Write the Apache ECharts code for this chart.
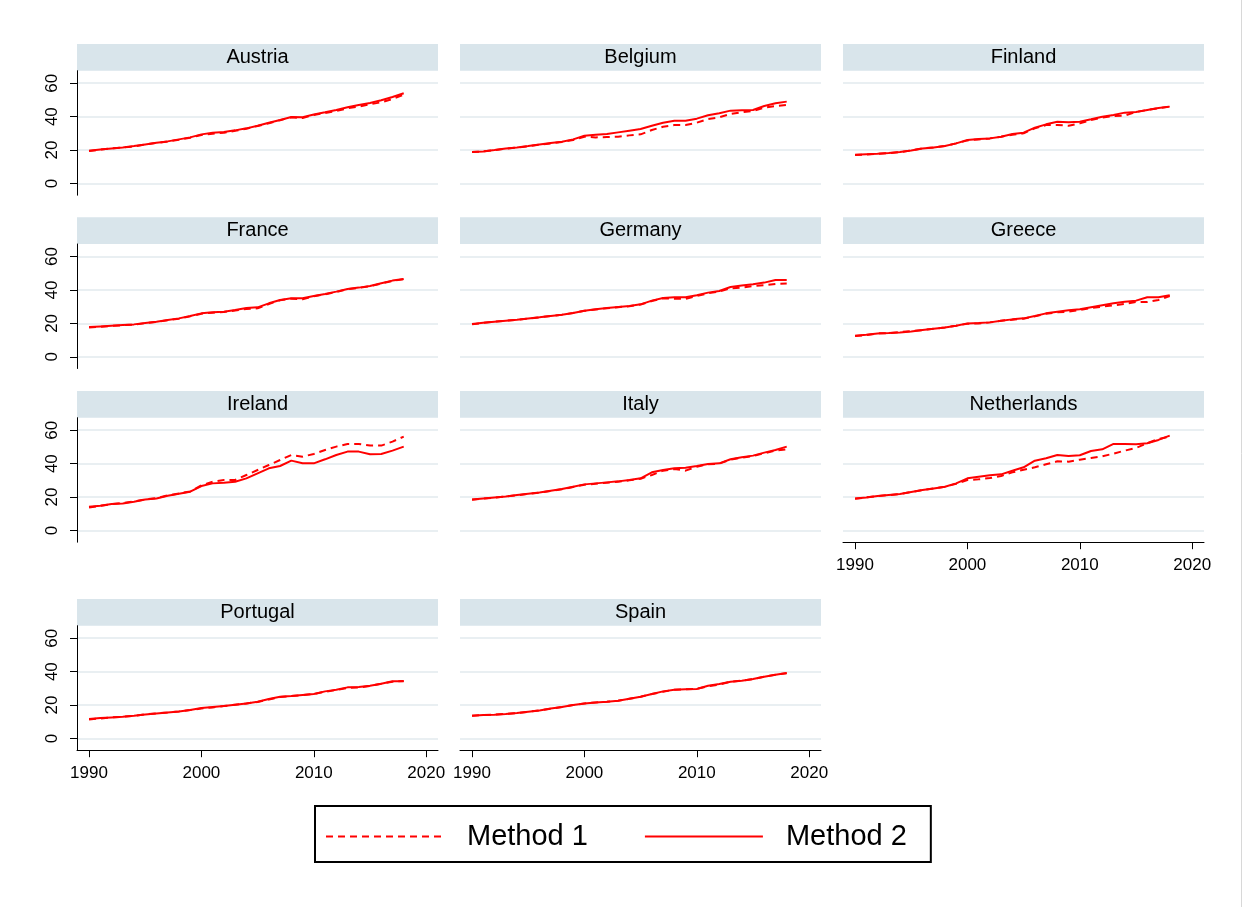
<!DOCTYPE html>
<html>
<head>
<meta charset="utf-8">
<script src="https://cdn.jsdelivr.net/npm/echarts@6/dist/echarts.min.js"></script>
<style>
html,body{margin:0;padding:0;background:#fff;}
#chart{width:1248px;height:907px;}
</style>
</head>
<body>
<div id="chart"></div>
<script>
// ---------- DATA ----------
var years = [1990,1991,1992,1993,1994,1995,1996,1997,1998,1999,2000,2001,2002,2003,2004,2005,2006,2007,2008,2009,2010,2011,2012,2013,2014,2015,2016,2017,2018];
var xTicks = [1990, 2000, 2010, 2020];
var yTicks = [0, 20, 40, 60];
var countries = ["Austria","Belgium","Finland","France","Germany","Greece","Ireland","Italy","Netherlands","Portugal","Spain"];
var seriesNames = ["Method 1", "Method 2"];

var austria_m1 = [19.4,20.3,21.0,21.5,22.2,23.3,24.3,25.1,26.2,27.4,29.0,29.8,30.4,31.5,32.8,34.4,36.1,37.9,39.6,39.2,41.0,42.2,43.4,45.0,46.0,47.4,48.6,50.6,53.2];
var austria_m2 = [19.6,20.4,21.0,21.6,22.4,23.4,24.4,25.2,26.4,27.6,29.4,30.4,30.8,31.8,33.0,34.6,36.3,38.0,39.8,39.6,41.3,42.6,44.0,45.6,47.0,48.2,49.8,51.8,54.0];
var belgium_m1 = [18.8,19.2,20.0,20.8,21.5,22.3,23.2,24.0,24.8,26.0,28.0,27.6,27.8,28.0,28.8,29.4,32.0,34.0,35.0,35.0,36.4,38.6,39.6,41.6,42.6,43.4,45.4,46.4,47.0];
var belgium_m2 = [18.8,19.2,20.0,21.0,21.6,22.4,23.4,24.2,25.0,26.4,28.6,29.2,29.6,30.6,31.6,32.6,34.6,36.4,37.6,37.6,38.8,40.8,42.0,43.6,43.8,44.0,46.4,48.0,49.0];
var finland_m1 = [17.0,17.4,17.8,18.2,18.8,19.8,21.0,21.6,22.4,24.0,25.8,26.4,27.0,28.0,29.2,30.0,33.0,35.0,35.0,34.6,36.0,38.0,39.4,40.4,40.6,42.8,44.0,45.0,46.0];
var finland_m2 = [17.2,17.5,17.8,18.2,18.8,19.8,21.0,21.6,22.4,24.0,26.0,26.6,27.0,28.0,29.6,30.4,33.4,35.4,37.0,36.6,37.0,38.4,40.0,41.0,42.4,42.8,44.0,45.2,46.0];
var france_m1 = [17.6,18.0,18.5,18.9,19.3,20.1,20.9,21.9,22.8,24.2,25.8,26.4,26.8,27.7,28.6,29.0,31.6,33.8,34.8,34.4,36.2,37.4,38.8,40.4,41.2,42.2,43.8,45.4,46.4];
var france_m2 = [17.8,18.2,18.6,19.0,19.4,20.2,21.0,22.0,23.0,24.4,26.0,26.6,27.0,28.0,29.2,29.6,32.0,34.0,35.0,35.0,36.4,37.6,39.0,40.6,41.4,42.4,44.0,45.6,46.6];
var germany_m1 = [19.4,20.3,21.0,21.6,22.2,22.9,23.6,24.4,25.2,26.2,27.5,28.3,29.1,29.7,30.3,31.3,33.4,35.0,34.8,34.6,36.4,38.0,39.0,41.0,41.4,42.4,42.8,43.6,43.8];
var germany_m2 = [19.6,20.4,21.0,21.6,22.2,22.9,23.6,24.4,25.2,26.2,27.6,28.4,29.2,29.8,30.4,31.4,33.6,35.2,35.6,35.6,36.8,38.4,39.4,41.8,42.6,43.4,44.4,46.0,46.0];
var greece_m1 = [12.4,13.0,14.0,14.2,14.8,15.3,16.0,16.8,17.6,18.6,19.8,20.0,20.6,21.6,22.2,22.8,24.2,25.8,26.6,27.0,28.0,29.2,30.0,30.8,31.6,32.8,32.8,34.0,36.4];
var greece_m2 = [12.6,13.2,14.0,14.2,14.6,15.2,16.0,16.8,17.6,18.6,20.0,20.2,20.6,21.6,22.4,23.0,24.4,26.0,27.0,27.8,28.4,29.6,30.8,32.0,33.0,33.6,35.6,35.6,36.8];
var ireland_m1 = [13.8,14.8,15.8,16.4,17.4,18.6,19.4,21.0,22.2,23.4,27.0,29.2,30.2,30.2,33.2,36.2,39.2,42.2,45.2,44.2,45.8,48.2,50.2,51.8,51.8,50.8,50.8,53.2,56.2];
var ireland_m2 = [14.2,14.8,15.8,16.2,17.2,18.6,19.2,20.8,22.0,23.2,26.6,28.2,28.6,29.2,31.2,34.2,37.2,38.6,41.8,40.2,40.2,42.6,45.2,47.2,47.2,45.6,45.8,47.8,50.2];
var italy_m1 = [18.4,19.1,19.7,20.3,21.1,21.9,22.7,23.7,24.7,26.0,27.4,28.0,28.6,29.2,30.0,31.0,33.2,35.8,36.8,35.8,38.2,39.6,40.0,42.4,43.6,44.6,46.2,47.8,48.6];
var italy_m2 = [18.6,19.2,19.8,20.4,21.2,22.0,22.8,23.8,24.8,26.2,27.6,28.2,28.8,29.4,30.2,31.2,34.8,36.2,37.2,37.6,38.6,39.8,40.2,42.6,43.8,44.8,46.6,48.2,50.2];
var netherlands_m1 = [19.0,19.8,20.6,21.2,21.8,23.0,24.2,25.2,26.2,28.0,30.2,30.6,31.4,32.6,34.8,36.4,37.8,39.6,41.4,41.2,42.4,43.4,44.4,46.0,47.8,49.4,52.2,54.8,56.2];
var netherlands_m2 = [19.2,19.8,20.6,21.2,21.8,23.0,24.2,25.2,26.2,28.2,31.2,32.2,33.0,33.6,35.8,37.8,41.8,43.2,45.2,44.6,45.0,47.6,48.6,51.8,51.8,51.6,52.2,54.2,56.8];
var portugal_m1 = [11.4,12.0,12.6,13.0,13.6,14.4,15.0,15.6,16.2,17.0,18.0,18.6,19.4,20.2,21.0,21.8,23.4,24.8,25.4,26.0,26.6,28.0,29.0,30.2,30.6,31.4,32.8,34.0,34.4];
var portugal_m2 = [11.6,12.2,12.6,13.0,13.6,14.4,15.0,15.6,16.2,17.0,18.2,18.8,19.4,20.2,21.0,22.0,23.6,25.0,25.4,26.0,26.6,28.2,29.2,30.6,30.8,31.6,32.8,34.2,34.2];
var spain_m1 = [13.6,14.0,14.3,14.8,15.2,16.0,16.8,17.8,18.8,20.0,21.0,21.6,22.0,22.6,23.8,25.0,26.6,28.0,29.2,29.4,29.8,31.2,32.2,34.0,34.6,35.6,37.0,38.2,39.0];
var spain_m2 = [13.6,14.0,14.2,14.6,15.2,16.0,16.8,18.0,18.8,20.0,21.0,21.6,22.0,22.6,23.8,25.0,26.6,28.2,29.2,29.4,29.6,31.6,32.6,34.0,34.6,35.6,37.0,38.2,39.2];

var method1 = [austria_m1, belgium_m1, finland_m1, france_m1, germany_m1, greece_m1, ireland_m1, italy_m1, netherlands_m1, portugal_m1, spain_m1];
var method2 = [austria_m2, belgium_m2, finland_m2, france_m2, germany_m2, greece_m2, ireland_m2, italy_m2, netherlands_m2, portugal_m2, spain_m2];

// ---------- LAYOUT ----------
var FONT = "'Liberation Sans', Arial, sans-serif";
var colLeft = [77, 460, 843];
var panelW = 361;
var plotTop = [70.7, 244, 417.7, 625.7];
var plotH = 124.5;
var headerH = 26.7;
var xAxisShown = {8: true, 9: true, 10: true};

var grids = [], xAxes = [], yAxes = [], series = [], graphics = [];

countries.forEach(function (name, i) {
  var r = Math.floor(i / 3), c = i % 3;
  var left = colLeft[c], top = plotTop[r];
  grids.push({ left: left, top: top, width: panelW, height: plotH, containLabel: false });
  var showX = !!xAxisShown[i];
  xAxes.push({
    type: 'value', gridIndex: i, min: 1988.93, max: 2021.05,
    axisLine: { show: showX, onZero: false, lineStyle: { color: '#000', width: 1 } },
    axisTick: { show: showX, length: 7, customValues: xTicks, lineStyle: { color: '#000', width: 1 } },
    axisLabel: { show: showX, customValues: xTicks, color: '#000', fontSize: 17, fontFamily: FONT, margin: 15,
                 formatter: function (v) { return String(v); } },
    splitLine: { show: false }
  });
  var showY = (c === 0);
  yAxes.push({
    type: 'value', gridIndex: i, min: -7, max: 67.5,
    axisLine: { show: showY, lineStyle: { color: '#000', width: 1 } },
    axisTick: { show: showY, length: 7, customValues: yTicks, lineStyle: { color: '#000', width: 1 } },
    axisLabel: { show: showY, customValues: yTicks, rotate: 90, color: '#000', fontSize: 17, fontFamily: FONT, margin: 16 },
    splitLine: { show: true, customValues: yTicks, lineStyle: { color: '#e9eff2', width: 2 } }
  });
  series.push({
    name: seriesNames[0], type: 'line', xAxisIndex: i, yAxisIndex: i,
    data: years.map(function (y, k) { return [y, method1[i][k]]; }),
    symbol: 'none', silent: true, animation: false,
    lineStyle: { color: '#ff0000', width: 2, type: [7, 5] }, itemStyle: { color: '#ff0000' }
  });
  series.push({
    name: seriesNames[1], type: 'line', xAxisIndex: i, yAxisIndex: i,
    data: years.map(function (y, k) { return [y, method2[i][k]]; }),
    symbol: 'none', silent: true, animation: false,
    lineStyle: { color: '#ff0000', width: 2, type: 'solid' }, itemStyle: { color: '#ff0000' }
  });
  graphics.push({
    type: 'rect', left: left, top: top - headerH, silent: true,
    shape: { width: panelW, height: headerH }, style: { fill: '#d9e5eb' }
  });
  graphics.push({
    type: 'text', x: left + panelW / 2, y: top - headerH / 2, silent: true,
    style: { text: name, fill: '#000', font: '20px ' + FONT, textAlign: 'center', textVerticalAlign: 'middle' }
  });
});

// thin border at the right edge of the image
graphics.push({
  type: 'line', silent: true,
  shape: { x1: 1241.5, y1: 0, x2: 1241.5, y2: 907 },
  style: { stroke: '#d8d8d8', lineWidth: 1 }
});

var chart = echarts.init(document.getElementById('chart'), null, { renderer: 'canvas' });
chart.setOption({
  backgroundColor: '#ffffff',
  animation: false,
  grid: grids,
  xAxis: xAxes,
  yAxis: yAxes,
  series: series,
  graphic: graphics,
  legend: {
    data: seriesNames,
    left: 315, top: 806,
    orient: 'horizontal',
    itemWidth: 118, itemHeight: 16, itemGap: 56,
    padding: [16, 24, 11, 10],
    borderColor: '#000', borderWidth: 2, borderRadius: 0,
    backgroundColor: '#fff',
    selectedMode: false,
    itemStyle: { opacity: 0 },
    textStyle: { color: '#000', fontSize: 29, fontFamily: FONT, padding: [0, 0, 0, 18] },
    lineStyle: { width: 2 }
  }
});
</script>
</body>
</html>
